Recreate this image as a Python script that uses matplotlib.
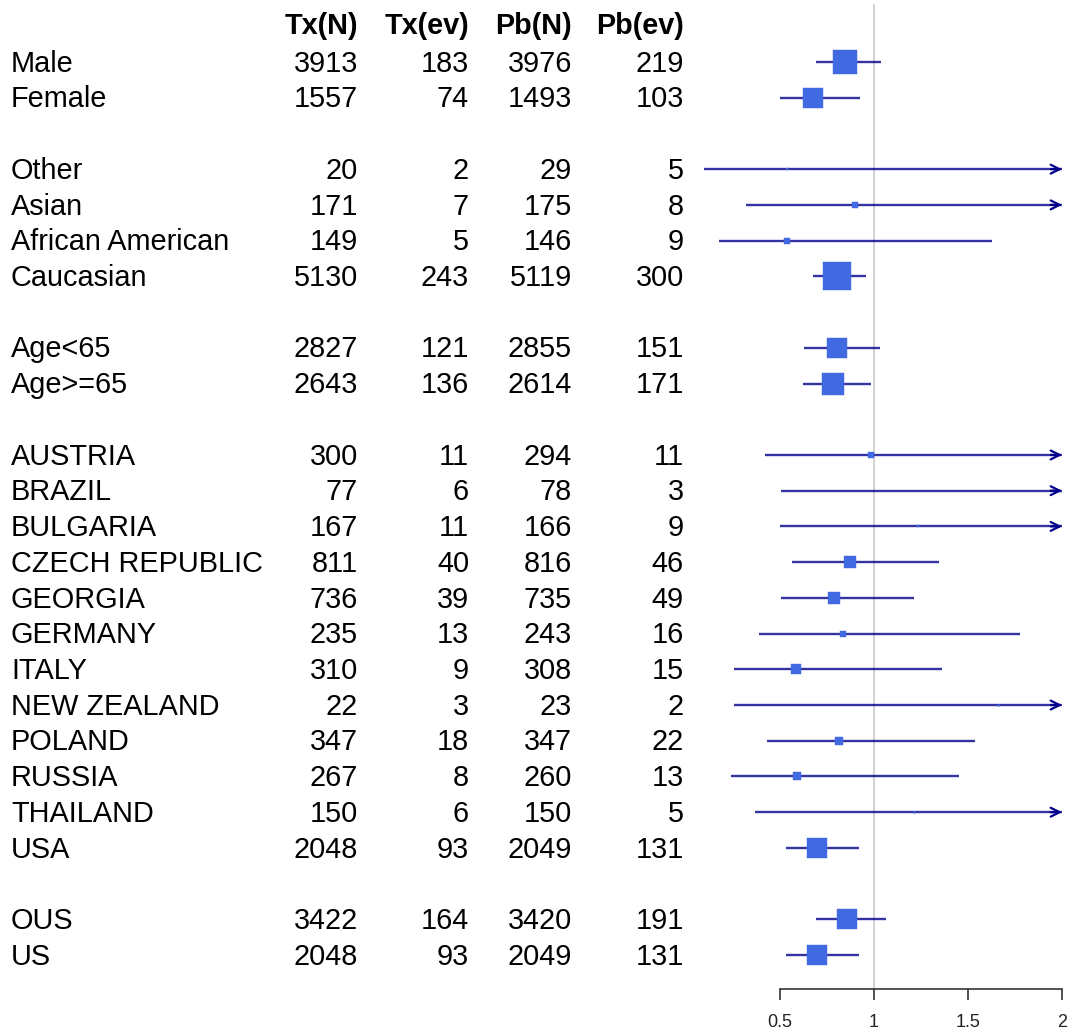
import matplotlib
matplotlib.use("Agg")
import matplotlib.pyplot as plt
import matplotlib.transforms as mtransforms
import numpy as np

plt.rcParams['font.family'] = ['Liberation Sans', 'DejaVu Sans']

# ---------------- data ----------------
headers = ["Tx(N)", "Tx(ev)", "Pb(N)", "Pb(ev)"]
group_sizes = [2, 4, 2, 12, 2]  # subgroups per block (blank row between blocks)

labels = ["Male", "Female",
          "Other", "Asian", "African American", "Caucasian",
          "Age<65", "Age>=65",
          "AUSTRIA", "BRAZIL", "BULGARIA", "CZECH REPUBLIC", "GEORGIA", "GERMANY",
          "ITALY", "NEW ZEALAND", "POLAND", "RUSSIA", "THAILAND", "USA",
          "OUS", "US"]
tx_n = [3913, 1557, 20, 171, 149, 5130, 2827, 2643, 300, 77, 167, 811, 736, 235,
        310, 22, 347, 267, 150, 2048, 3422, 2048]
tx_ev = [183, 74, 2, 7, 5, 243, 121, 136, 11, 6, 11, 40, 39, 13,
         9, 3, 18, 8, 6, 93, 164, 93]
pb_n = [3976, 1493, 29, 175, 146, 5119, 2855, 2614, 294, 78, 166, 816, 735, 243,
        308, 23, 347, 260, 150, 2049, 3420, 2049]
pb_ev = [219, 103, 5, 8, 9, 300, 151, 171, 11, 3, 9, 46, 49, 16,
         15, 2, 22, 13, 5, 131, 191, 131]

est = [0.847, 0.677, 0.538, 0.896, 0.535, 0.805, 0.805, 0.781, 0.983, 2.03, 1.233,
       0.871, 0.784, 0.836, 0.585, 1.66, 0.813, 0.590, 1.212, 0.697, 0.855, 0.697]
lower = [0.690, 0.500, 0.095, 0.317, 0.177, 0.674, 0.626, 0.619, 0.420, 0.507, 0.500,
         0.564, 0.507, 0.389, 0.253, 0.253, 0.428, 0.237, 0.365, 0.532, 0.690, 0.532]
upper = [1.038, 0.926, 3.50, 2.50, 1.626, 0.958, 1.029, 0.981, 2.30, 8.0, 3.0,
         1.347, 1.212, 1.775, 1.363, 11.0, 1.537, 1.450, 4.0, 0.919, 1.061, 0.919]
# relative weight (box size relative to largest box)
weight = [0.84, 0.69, 0.10, 0.21, 0.24, 1.00, 0.69, 0.76, 0.21, 0.0, 0.08,
          0.43, 0.44, 0.24, 0.32, 0.06, 0.29, 0.29, 0.06, 0.73, 0.73, 0.73]

xticks = [0.5, 1, 1.5, 2]
xtick_labels = ["0.5", "1", "1.5", "2"]

# ---------------- layout ----------------
W, H = 1070, 1033
fig = plt.figure(figsize=(W / 100, H / 100), dpi=100)
ax = fig.add_axes([686.2 / W, 0, 379.6 / W, 1])
XMAX = 2.0
ax.set_xlim(0, 2.02)
ax.set_ylim(27.18, -1.735)

# row positions
rows = []
r = 0
for g in group_sizes:
    for _ in range(g):
        rows.append(r)
        r += 1
    r += 1

axis_y = 25.94
line_col = '#00008B'
box_col = '#4169E1'

# reference line
ax.plot([1, 1], [-1.6, axis_y], color='#cfcfcf', lw=1.3, zorder=0)

for i, y in enumerate(rows):
    lo, hi, e = lower[i], upper[i], est[i]
    hi_c = min(hi, XMAX)
    ax.plot([lo, hi_c], [y, y], color=line_col, lw=1.7, zorder=2, alpha=0.8,
            solid_capstyle='butt')
    if hi > XMAX:
        ax.annotate('', xy=(XMAX, y), xytext=(XMAX - 0.06, y),
                    arrowprops=dict(arrowstyle='->', color=line_col, lw=1.6,
                                    mutation_scale=16, shrinkA=0, shrinkB=0),
                    annotation_clip=False, zorder=3)
    if e <= XMAX and weight[i] > 0:
        ms = max(weight[i] * 20.3, 1.2)
        ax.plot([e], [y], marker='s', ms=ms, color=box_col, mec=box_col,
                mew=0.3, zorder=4, linestyle='none')

# axis
for s in ['top', 'left', 'right']:
    ax.spines[s].set_visible(False)
ax.spines['bottom'].set_position(('data', axis_y))
ax.spines['bottom'].set_bounds(0.5, 2)
ax.spines['bottom'].set_color('#333333')
ax.spines['bottom'].set_linewidth(1.2)
ax.set_xticks(xticks)
ax.set_xticklabels(xtick_labels, fontsize=13)
ax.tick_params(axis='x', direction='out', length=8, width=1.2, color='#333333',
               pad=10, labelcolor='#222222')
ax.set_yticks([])
ax.patch.set_alpha(0)

# text table
trans = mtransforms.blended_transform_factory(fig.transFigure, ax.transData)
col_right = [358, 469, 572, 684]
fs = 20.8
base_off = 0.27
for j, h in enumerate(headers):
    ax.text(col_right[j] / W, -1.0 + 0.22, h, transform=trans, ha='right', va='baseline',
            fontsize=fs, fontweight='bold', color='black', clip_on=False)
cols = [tx_n, tx_ev, pb_n, pb_ev]
for i, y in enumerate(rows):
    ax.text(11 / W, y + base_off, labels[i], transform=trans, ha='left', va='baseline',
            fontsize=fs, color='black', clip_on=False)
    for j in range(4):
        ax.text(col_right[j] / W, y + base_off, str(cols[j][i]), transform=trans,
                ha='right', va='baseline', fontsize=fs, color='black', clip_on=False)

fig.savefig("out.png", dpi=100, facecolor='white')
